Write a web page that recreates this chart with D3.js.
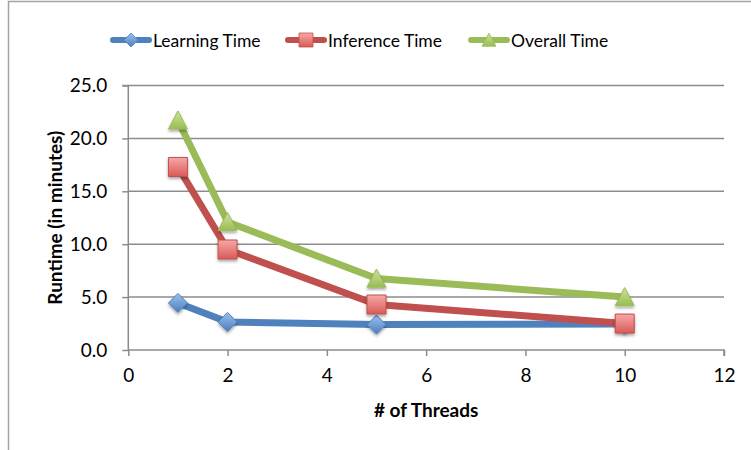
<!DOCTYPE html>
<html>
<head>
<meta charset="utf-8">
<script src="https://cdn.jsdelivr.net/npm/d3@7/dist/d3.min.js"></script>
<style>
  html, body { margin: 0; padding: 0; background: #fff; }
  svg { display: block; }
  text { font-family: Lato, "Open Sans", sans-serif; fill: #000; }
</style>
</head>
<body>
<svg id="chart" width="751" height="450"></svg>
<script>
// Runtime measurements by thread count
const threads = [1, 2, 5, 10];
const learningTime = [4.45, 2.65, 2.4, 2.45];
const inferenceTime = [17.3, 9.5, 4.3, 2.5];
const overallTime = [21.7, 12.1, 6.75, 5.0];
const xTicks = [0, 2, 4, 6, 8, 10, 12];
const yTicks = [0, 5, 10, 15, 20, 25];

const series = [
  { name: "Learning Time",  values: learningTime,  color: "#4f81bd", light: "#9cc0ec", dark: "#4a7fc2", shape: "diamond" },
  { name: "Inference Time", values: inferenceTime, color: "#c0504d", light: "#f7a8a6", dark: "#d85b57", shape: "square" },
  { name: "Overall Time",   values: overallTime,   color: "#9bbb59", light: "#cde39d", dark: "#99bd52", shape: "triangle" }
];

const svg = d3.select("#chart");
const defs = svg.append("defs");

// marker gradients and soft shadow
series.forEach((s, i) => {
  const g = defs.append("linearGradient").attr("id", "grad" + i)
    .attr("x1", 0).attr("y1", 0).attr("x2", 0).attr("y2", 1);
  g.append("stop").attr("offset", "0%").attr("stop-color", s.light);
  g.append("stop").attr("offset", "100%").attr("stop-color", s.dark);
});
const f = defs.append("filter").attr("id", "shadow")
  .attr("x", "-50%").attr("y", "-50%").attr("width", "200%").attr("height", "200%");
f.append("feDropShadow").attr("dx", 0).attr("dy", 2).attr("stdDeviation", 1.6)
  .attr("flood-color", "#000").attr("flood-opacity", 0.35);

// chart frame
svg.append("path")
  .attr("d", "M8.5,451 L8.5,1.5 L752,1.5")
  .attr("fill", "none").attr("stroke", "#a3a3a3").attr("stroke-width", 1.5);

const x = d3.scaleLinear().domain([0, 12]).range([128.3, 724]);
const y = d3.scaleLinear().domain([0, 25]).range([350, 85.5]);

// horizontal gridlines
svg.append("g").selectAll("line").data(yTicks.filter(d => d > 0)).join("line")
  .attr("x1", x(0)).attr("x2", x(12))
  .attr("y1", d => y(d)).attr("y2", d => y(d))
  .attr("stroke", "#8c8c8c").attr("stroke-width", 1.5);

// axes
const xAxis = svg.append("g").attr("transform", `translate(0,${y(0)})`)
  .call(d3.axisBottom(x).tickValues(xTicks).tickSize(6).tickPadding(13).tickFormat(d3.format("d")));
const yAxis = svg.append("g").attr("transform", `translate(${x(0)},0)`)
  .call(d3.axisLeft(y).tickValues(yTicks).tickSize(6).tickPadding(15).tickFormat(d3.format(".1f")));
[xAxis, yAxis].forEach(a => {
  a.select(".domain").attr("stroke", "#8c8c8c").attr("stroke-width", 1.5);
  a.selectAll(".tick line").attr("stroke", "#8c8c8c").attr("stroke-width", 1.5);
  a.selectAll(".tick text").style("font-family", "Lato, sans-serif").style("font-size", "19px").attr("fill", "#000");
});
xAxis.select(".domain").attr("d", `M${x(0)},0H${x(12)}V6`);
yAxis.select(".domain").attr("d", `M-6,${y(25)}H0V${y(0)}`);

// axis titles
svg.append("text")
  .attr("x", (x(0) + x(12)) / 2).attr("y", 417)
  .attr("text-anchor", "middle")
  .style("font-size", "19px").style("font-weight", "bold")
  .text("# of Threads");
svg.append("text")
  .attr("transform", `translate(62,${(y(0) + y(25)) / 2}) rotate(-90)`)
  .attr("text-anchor", "middle")
  .style("font-size", "19px").style("font-weight", "bold")
  .text("Runtime (in minutes)");

function markerPath(shape, size) {
  const h = size / 2;
  if (shape === "diamond") return `M0,${-h}L${h},0L0,${h}L${-h},0Z`;
  if (shape === "square") return `M${-h},${-h}H${h}V${h}H${-h}Z`;
  return `M0,${-h}L${h},${h * 0.9}L${-h},${h * 0.9}Z`;
}

// series lines and markers
const line = d3.line().x(d => x(d[0])).y(d => y(d[1]));
series.forEach((s, i) => {
  const pts = threads.map((t, k) => [t, s.values[k]]);
  svg.append("path").datum(pts)
    .attr("d", line).attr("fill", "none")
    .attr("stroke", s.color).attr("stroke-width", 7)
    .attr("stroke-linejoin", "round").attr("stroke-linecap", "round");
});
series.forEach((s, i) => {
  const pts = threads.map((t, k) => [t, s.values[k]]);
  svg.append("g").selectAll("path").data(pts).join("path")
    .attr("transform", d => `translate(${x(d[0])},${y(d[1])})`)
    .attr("d", markerPath(s.shape, 19))
    .attr("fill", `url(#grad${i})`)
    .attr("stroke", s.color).attr("stroke-width", 1)
    .attr("filter", "url(#shadow)");
});

// legend
const legendX = [110, 285, 468];
const legend = svg.append("g");
series.forEach((s, i) => {
  const g = legend.append("g").attr("transform", `translate(${legendX[i]},40)`);
  g.append("line").attr("x1", 3).attr("x2", 39).attr("y1", 0).attr("y2", 0)
    .attr("stroke", s.color).attr("stroke-width", 6).attr("stroke-linecap", "round");
  g.append("path").attr("transform", "translate(21,0)")
    .attr("d", markerPath(s.shape, 14))
    .attr("fill", `url(#grad${i})`).attr("stroke", s.color).attr("stroke-width", 0.8);
  g.append("text").attr("x", 43).attr("y", 6.5)
    .style("font-size", "17.5px").text(s.name);
});
</script>
</body>
</html>
